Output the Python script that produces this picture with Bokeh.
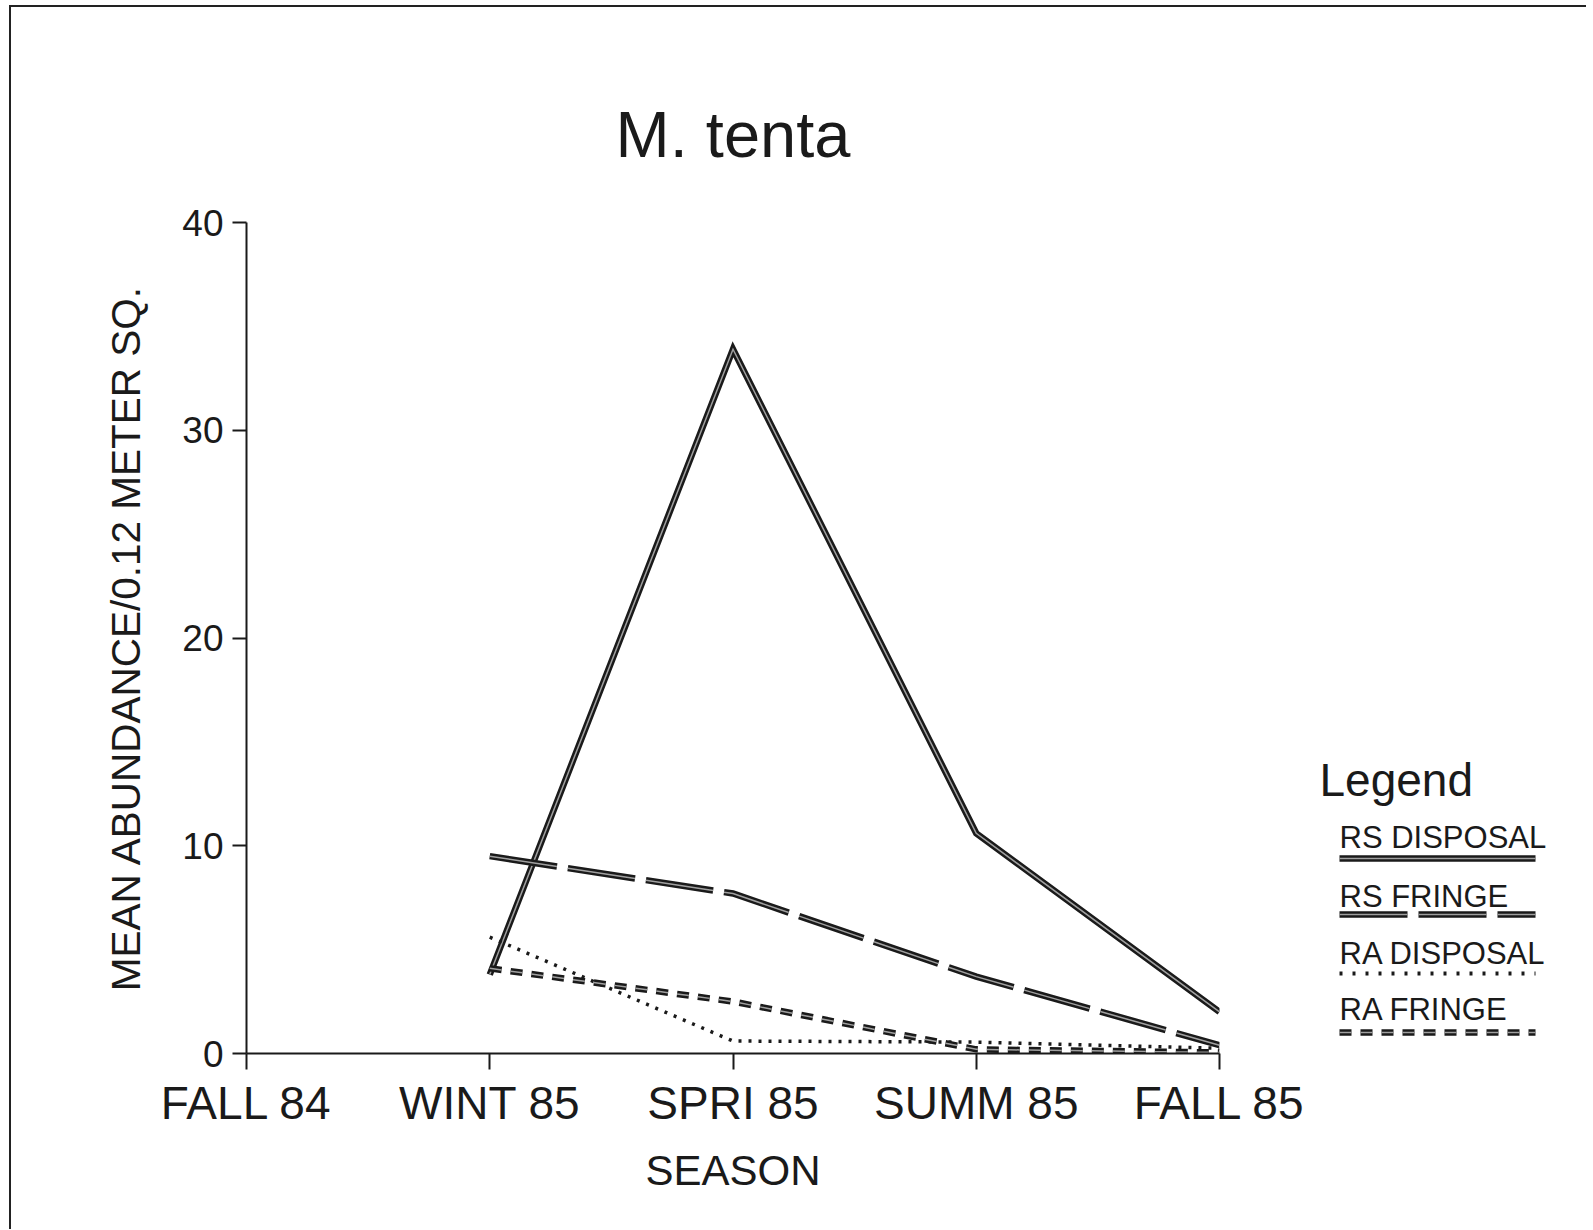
from bokeh.plotting import figure
from bokeh.models import Range1d, FixedTicker
from bokeh.layouts import row
from bokeh.embed import file_html
from bokeh.resources import INLINE
from bokeh.core.properties import value

# ---- data ----
seasons = ["FALL 84", "WINT 85", "SPRI 85", "SUMM 85", "FALL 85"]
sampled = ["WINT 85", "SPRI 85", "SUMM 85", "FALL 85"]
rs_disposal = [3.8, 33.9, 10.6, 2.0]
rs_fringe = [9.5, 7.7, 3.7, 0.4]
ra_disposal = [5.6, 0.6, 0.55, 0.25]
ra_fringe = [4.1, 2.5, 0.2, 0.05]
y_ticks = [0, 10, 20, 30, 40]
series_names = ["RS DISPOSAL", "RS FRINGE", "RA DISPOSAL", "RA FRINGE"]

FONT = "Liberation Sans"
INK = "#1a1a1a"

styles = {
    "RS DISPOSAL": dict(dash="solid", w=6.5, inner=1.5),
    "RS FRINGE": dict(dash="68 11", w=6.5, inner=1.5),
    "RA DISPOSAL": dict(dash="3 7", w=3.5, inner=0),
    "RA FRINGE": dict(dash="12 9", w=6.5, inner=1.5),
}
values_by_name = {
    "RS DISPOSAL": rs_disposal,
    "RS FRINGE": rs_fringe,
    "RA DISPOSAL": ra_disposal,
    "RA FRINGE": ra_fringe,
}

H = 1222
TOP = 215
BOTTOM = H - TOP - 831
W1 = 1298

# ---- main figure ----
p = figure(width=W1, height=H, output_backend="svg", toolbar_location=None,
           x_range=Range1d(0, len(seasons) - 1), y_range=Range1d(0, 40),
           min_border_left=235, min_border_right=W1 - 235 - 973,
           min_border_top=TOP, min_border_bottom=BOTTOM)
p.outline_line_color = None
p.grid.visible = False
p.background_fill_color = "white"
p.border_fill_color = "white"

p.title.text = "M. tenta"
p.title.text_font = FONT
p.title.text_font_size = "65px"
p.title.text_font_style = "normal"
p.title.text_color = INK
p.title.align = "center"
p.title.offset = 18
p.title.standoff = 104

xs = [seasons.index(s) for s in sampled]
for name in series_names:
    st = styles[name]
    ys = values_by_name[name]
    p.line(xs, ys, line_color=INK, line_width=st["w"], line_dash=st["dash"],
           line_cap="butt", line_join="miter")
    if st["inner"]:
        p.line(xs, ys, line_color="#a0a0a0", line_width=st["inner"],
               line_dash=st["dash"], line_cap="butt", line_join="miter")

xa = p.xaxis[0]
xa.ticker = FixedTicker(ticks=list(range(len(seasons))))
xa.major_label_overrides = {i: s for i, s in enumerate(seasons)}
xa.minor_tick_line_color = None
xa.major_tick_out = 16
xa.major_tick_in = 0
xa.axis_line_width = 2
xa.major_tick_line_width = 2
xa.axis_line_color = INK
xa.major_tick_line_color = INK
xa.major_label_text_font = FONT
xa.major_label_text_font_size = "46px"
xa.major_label_text_color = INK
xa.major_label_standoff = 7
xa.axis_label = "SEASON"
xa.axis_label_text_font = FONT
xa.axis_label_text_font_size = "42px"
xa.axis_label_text_font_style = "normal"
xa.axis_label_text_color = INK
xa.axis_label_standoff = 15

ya = p.yaxis[0]
ya.ticker = FixedTicker(ticks=y_ticks)
ya.minor_tick_line_color = None
ya.major_tick_out = 14
ya.major_tick_in = 0
ya.axis_line_width = 2
ya.major_tick_line_width = 2
ya.axis_line_color = INK
ya.major_tick_line_color = INK
ya.major_label_text_font = FONT
ya.major_label_text_font_size = "37px"
ya.major_label_text_color = INK
ya.major_label_standoff = 9
ya.axis_label = "MEAN ABUNDANCE/0.12 METER SQ."
ya.axis_label_text_font = FONT
ya.axis_label_text_font_size = "40.5px"
ya.axis_label_text_font_style = "normal"
ya.axis_label_text_color = INK
ya.axis_label_standoff = 30

# ---- legend panel (coordinates in pixels of this panel) ----
W2 = 277
lg = figure(width=W2, height=H, output_backend="svg", toolbar_location=None,
            x_range=Range1d(0, W2), y_range=Range1d(H - BOTTOM, TOP),
            x_axis_location=None, y_axis_location=None,
            min_border_left=0, min_border_right=0,
            min_border_top=TOP, min_border_bottom=BOTTOM)
lg.outline_line_color = None
lg.grid.visible = False
lg.border_fill_color = "white"

lg.text(x=[10], y=[772], text=["Legend"], text_font=value(FONT),
        text_font_size="46px", text_color=INK, text_baseline="alphabetic")
text_y = [830, 889, 946, 1002]
line_y = [851, 907, 966, 1025]
for i, name in enumerate(series_names):
    st = styles[name]
    lg.text(x=[30], y=[text_y[i]], text=[name], text_font=value(FONT),
            text_font_size="31px", text_color=INK, text_baseline="alphabetic")
    lg.line([30, 226], [line_y[i], line_y[i]], line_color=INK,
            line_width=st["w"] if name != "RA DISPOSAL" else 4,
            line_dash=st["dash"] if name != "RA DISPOSAL" else "3 10",
            line_cap="butt")
    if st["inner"]:
        lg.line([30, 226], [line_y[i], line_y[i]], line_color="#a0a0a0",
                line_width=st["inner"], line_dash=st["dash"], line_cap="butt")

layout = row(p, lg, margin=(5, 0, 0, 9),
             styles={"border-top": "2px solid #222",
                     "border-left": "2px solid #222"})
open("out.html", "w").write(file_html(layout, INLINE))
